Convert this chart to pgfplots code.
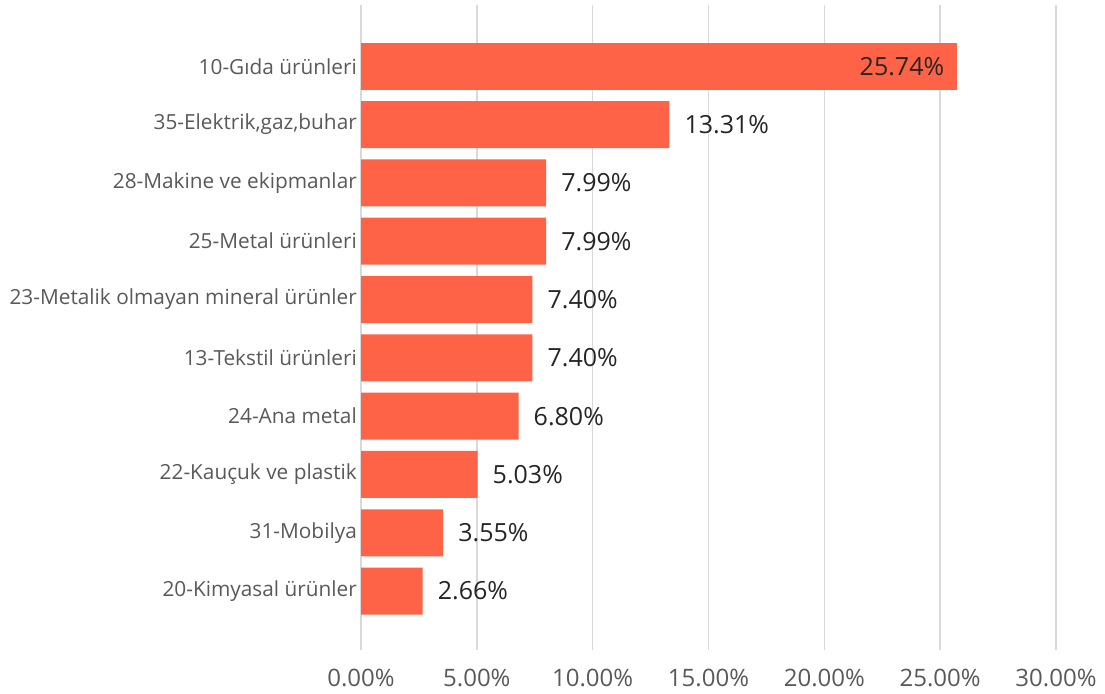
\documentclass[border=0pt]{standalone}
\usepackage{fontspec}
\setmainfont{Open Sans}
\usepackage{pgfplots}
\pgfplotsset{compat=1.18}
\definecolor{barred}{RGB}{255,99,71}
\definecolor{gridgray}{RGB}{217,217,217}
\definecolor{labelgray}{RGB}{89,89,89}
\definecolor{valuetext}{RGB}{37,37,37}
\begin{document}
\begin{tikzpicture}
\useasboundingbox (0,0) rectangle (1105pt,693pt);
\begin{axis}[
    at={(361pt,43pt)}, anchor=south west,
    scale only axis,
    width=695pt, height=645pt,
    xbar, bar width=47pt, bar shift=0pt,
    xmin=0, xmax=30,
    ymin=-1.01, ymax=10.05,
    xtick={0,5,10,15,20,25,30},
    ytick={0,1,2,3,4,5,6,7,8,9},
    yticklabels={
        20-Kimyasal ürünler,
        31-Mobilya,
        22-Kauçuk ve plastik,
        24-Ana metal,
        13-Tekstil ürünleri,
        23-Metalik olmayan mineral ürünler,
        25-Metal ürünleri,
        28-Makine ve ekipmanlar,
        {35-Elektrik,gaz,buhar},
        10-Gıda ürünleri
    },
    xticklabel={\pgfmathprintnumber[fixed,fixed zerofill,precision=2,assume math mode=true]{\tick}\%},
    xticklabel style={anchor=center, inner sep=0pt, yshift=-28pt,
        font=\fontsize{24}{28}\selectfont, text=labelgray},
    yticklabel style={anchor=east, inner sep=0pt, xshift=-4pt,
        font=\fontsize{20.8}{25}\selectfont, text=labelgray},
    axis line style={draw=none},
    tick style={draw=none},
    major tick length=0pt,
    xmajorgrids=true,
    grid style={draw=gridgray, line width=1.5pt},
    point meta=x,
    nodes near coords={\pgfmathprintnumber[fixed,fixed zerofill,precision=2,assume math mode=true]{\pgfplotspointmeta}\%},
    every node near coord/.append style={font=\fontsize{25}{30}\selectfont,
        text=valuetext, inner sep=0pt},
    clip=false
]
    \addplot[draw=none, fill=barred,
        every node near coord/.append style={anchor=west, xshift=15pt}]
    coordinates {
        (2.66,0)
        (3.55,1)
        (5.03,2)
        (6.80,3)
        (7.40,4)
        (7.40,5)
        (7.99,6)
        (7.99,7)
        (13.31,8)
    };
    \addplot[draw=none, fill=barred,
        every node near coord/.append style={anchor=east, xshift=-13pt}]
    coordinates {
        (25.74,9)
    };
\end{axis}
\end{tikzpicture}
\end{document}
